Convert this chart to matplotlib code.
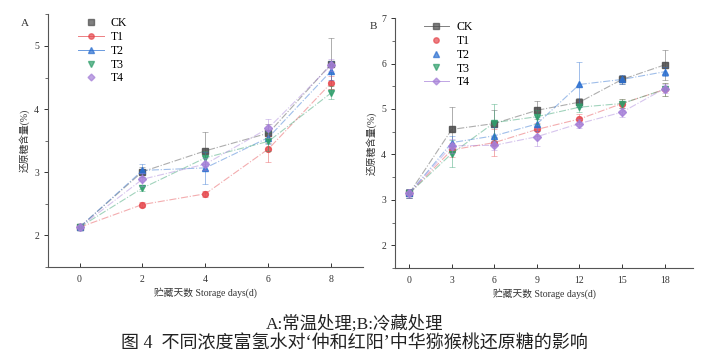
import matplotlib
matplotlib.use('Agg')
import matplotlib.pyplot as plt
from matplotlib.lines import Line2D
from matplotlib.ticker import MultipleLocator

plt.rcParams['font.family'] = ['Liberation Serif', 'Noto Sans CJK SC']

# ---------------- data ----------------
groups = ['CK', 'T1', 'T2', 'T3', 'T4']

days_a = [0, 2, 4, 6, 8]
ck_a = [2.13, 3.01, 3.34, 3.62, 4.72]
t1_a = [2.13, 2.49, 2.66, 3.37, 4.42]
t2_a = [2.13, 3.03, 3.07, 3.55, 4.61]
t3_a = [2.13, 2.75, 3.23, 3.49, 4.26]
t4_a = [2.13, 2.89, 3.13, 3.70, 4.70]
err_ck_a = [0.04, 0.08, 0.30, 0.15, 0.40]
err_t1_a = [0.04, 0.04, 0.05, 0.20, 0.10]
err_t2_a = [0.04, 0.10, 0.25, 0.10, 0.15]
err_t3_a = [0.04, 0.05, 0.10, 0.15, 0.10]
err_t4_a = [0.04, 0.10, 0.10, 0.15, 0.10]

days_b = [0, 3, 6, 9, 12, 15, 18]
ck_b = [3.14, 4.55, 4.68, 4.97, 5.15, 5.65, 5.97]
t1_b = [3.14, 4.10, 4.26, 4.55, 4.78, 5.12, 5.43]
t2_b = [3.14, 4.26, 4.41, 4.67, 5.54, 5.65, 5.82]
t3_b = [3.14, 4.02, 4.70, 4.83, 5.04, 5.12, 5.43]
t4_b = [3.14, 4.19, 4.20, 4.39, 4.68, 4.93, 5.45]
err_ck_b = [0.10, 0.50, 0.30, 0.20, 0.10, 0.10, 0.33]
err_t1_b = [0.10, 0.15, 0.30, 0.15, 0.10, 0.10, 0.15]
err_t2_b = [0.10, 0.15, 0.20, 0.15, 0.50, 0.10, 0.10]
err_t3_b = [0.10, 0.30, 0.40, 0.15, 0.10, 0.10, 0.15]
err_t4_b = [0.10, 0.15, 0.10, 0.20, 0.10, 0.10, 0.10]

colors = ['#4a4a4a', '#e5484d', '#2b6fd0', '#2f9e6b', '#a57fd8']
markers = ['s', 'o', '^', 'v', 'D']
msizes = [4.2, 4.2, 4.6, 4.6, 3.8]


def draw_panel(ax, days, series, errs, xlim, ylim, letter, legend_lines):
	for i, (ys, es) in enumerate(zip(series, errs)):
		ax.errorbar(days, ys, yerr=es, color=colors[i], ecolor=colors[i],
		            elinewidth=0.7, capsize=2, capthick=0.6, alpha=0.45,
		            linestyle='none', marker=None)
		ax.plot(days, ys, color=colors[i], linestyle='-.', linewidth=0.8, alpha=0.45)
		ax.plot(days, ys, color=colors[i], linestyle='none', marker=markers[i],
		        markersize=msizes[i], alpha=0.85)
	ax.set_xlim(*xlim)
	ax.set_ylim(*ylim)
	ax.spines['top'].set_visible(False)
	ax.spines['right'].set_visible(False)
	for s in ['left', 'bottom']:
		ax.spines[s].set_color('#555555')
		ax.spines[s].set_linewidth(0.8)
	ax.set_xticks(days)
	ax.yaxis.set_major_locator(MultipleLocator(1))
	ax.yaxis.set_minor_locator(MultipleLocator(0.5))
	ax.tick_params(axis='x', direction='in', length=3, width=0.7, labelsize=7, colors='#333333', pad=6)
	ax.tick_params(axis='y', which='major', direction='out', length=3, width=0.7, labelsize=7, colors='#333333')
	ax.tick_params(axis='y', which='minor', direction='out', length=2, width=0.6, colors='#555555')
	ax.set_xlabel('贮藏天数 Storage days(d)', fontsize=7, color='#333333', labelpad=2)
	ax.set_ylabel('还原糖含量(%)', fontsize=7, color='#333333', labelpad=3)
	ax.text(-0.085, 0.955, letter, transform=ax.transAxes, fontsize=8, color='#333333')

	handles = []
	for i, g in enumerate(groups):
		ls = '-' if legend_lines[i] else 'none'
		handles.append(Line2D([], [], color=colors[i], linestyle=ls, linewidth=0.7,
		                      marker=markers[i], markersize=msizes[i] - 0.3, alpha=0.7))
	ax.legend(handles, groups, loc='upper left', bbox_to_anchor=(0.06, 1.03), frameon=False,
	          fontsize=8.5, handlelength=2.2, labelspacing=0.15, handletextpad=0.6)


fig = plt.figure(figsize=(7.07, 3.58), dpi=100)
ax_a = fig.add_axes([0.0679, 0.254, 0.4455, 0.706])
ax_b = fig.add_axes([0.5587, 0.2514, 0.4215, 0.698])

draw_panel(ax_a, days_a, [ck_a, t1_a, t2_a, t3_a, t4_a],
           [err_ck_a, err_t1_a, err_t2_a, err_t3_a, err_t4_a],
           (-1, 9), (1.5, 5.5), 'A', [False, True, True, False, False])
draw_panel(ax_b, days_b, [ck_b, t1_b, t2_b, t3_b, t4_b],
           [err_ck_b, err_t1_b, err_t2_b, err_t3_b, err_t4_b],
           (-1, 20), (1.5, 7), 'B', [True, False, False, False, True])

fig.text(0.502, 0.094, 'A:常温处理;B:冷藏处理', ha='center', va='center', fontsize=12.5,
         fontweight='light', color='#222222')
fig.text(0.501, 0.040, "图 4  不同浓度富氢水对‘仲和红阳’中华猕猴桃还原糖的影响",
         ha='center', va='center', fontsize=13, fontweight='light', color='#222222')

fig.savefig('out.png', dpi=100)
